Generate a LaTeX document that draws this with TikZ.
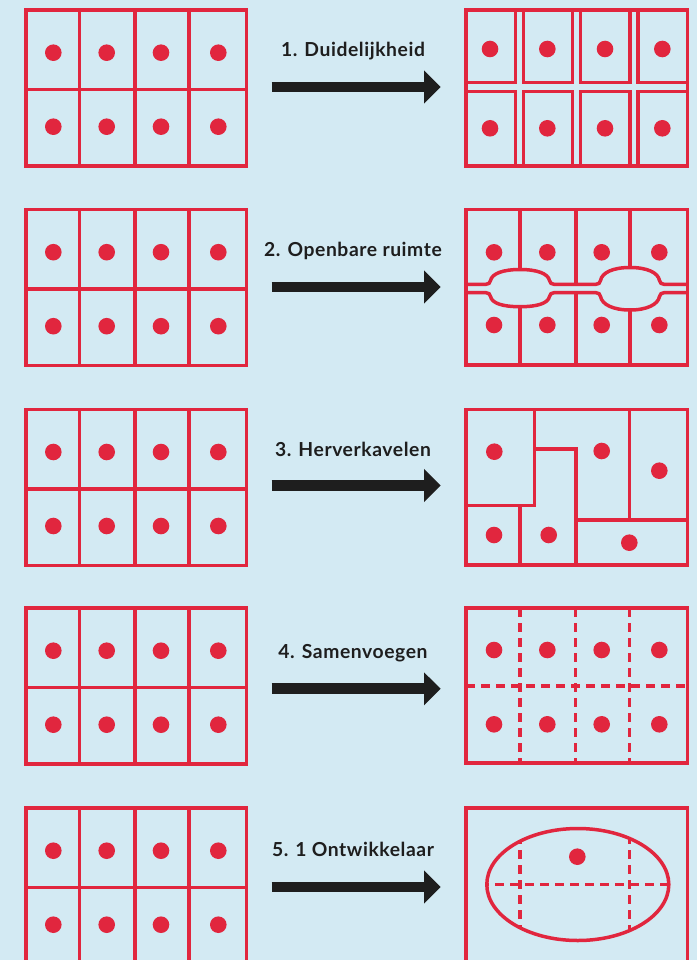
\documentclass[tikz,border=0pt]{standalone}
\usepackage{fontspec}
\setmainfont{Lato}[LetterSpace=3]
\usetikzlibrary{arrows.meta}
\definecolor{bg}{HTML}{D3EAF3}
\definecolor{rd}{HTML}{E1263E}
\definecolor{ink}{HTML}{1E1E1E}
\tikzset{
 plot/.style={draw=rd, line width=3.5pt},
 dashln/.style={draw=rd, line width=3.5pt, dash pattern=on 9pt off 6pt},
 bigarrow/.style={draw=ink, line width=10.7pt, -{Triangle[length=16.7pt,width=32pt]}},
 lab/.style={font=\fontsize{19.3}{21}\selectfont\bfseries, text=ink, anchor=base, inner sep=0pt}
}
\newcommand\leftgrid[1]{%
\begin{scope}[shift={(0,#1)}]
\draw[plot] (26,0) rectangle (246.5,156);
\draw[plot] (79.5,0) -- (79.5,156) (135,0) -- (135,156) (189,0) -- (189,156) (26,79.5) -- (246.5,79.5);
\foreach \xx in {53.3,106.7,161,218.3}{\foreach \yy in {42.7,116.7}{\fill[rd] (\xx,\yy) circle (8.3pt);}}
\end{scope}}
\begin{document}
\begin{tikzpicture}[x=1pt,y=-1pt]
\useasboundingbox (0,0) rectangle (697,960);
\clip (0,0) rectangle (697,960);
\fill[bg] (0,0) rectangle (697,960);
% left grids
\leftgrid{10}
\leftgrid{209.5}
\leftgrid{409.3}
\leftgrid{608}
\leftgrid{808}
% labels
\node[lab] (l1) at (353,56.7) {1. Duidelijkheid};
\node[lab] (l2) at (353,256.7) {2. Openbare ruimte};
\node[lab] (l3) at (353,456) {3. Herverkavelen};
\node[lab] (l4) at (353,658.3) {4. Samenvoegen};
\node[lab] (l5) at (353,856.7) {5. 1 Ontwikkelaar};
% arrows
\coordinate (a1s) at (271.7,87);    \coordinate (a1e) at (440.7,87);
\coordinate (a2s) at (271.7,287);   \coordinate (a2e) at (440.7,287);
\coordinate (a3s) at (271.7,485.5); \coordinate (a3e) at (440.7,485.5);
\coordinate (a4s) at (271.7,688.8); \coordinate (a4e) at (440.7,688.8);
\coordinate (a5s) at (271.7,887);   \coordinate (a5e) at (440.7,887);
\draw[bigarrow] (a1s) -- (a1e);
\draw[bigarrow] (a2s) -- (a2e);
\draw[bigarrow] (a3s) -- (a3e);
\draw[bigarrow] (a4s) -- (a4e);
\draw[bigarrow] (a5s) -- (a5e);
% row 1 right: separated plots
\draw[plot] (466,10) rectangle (687.5,166);
\foreach \xa/\xb in {466/515.5,523.5/572.5,580.5/630,638/687.5}{
  \draw[plot] (\xa,10) rectangle (\xb,82.7);
  \draw[plot] (\xa,91.7) rectangle (\xb,166);}
\foreach \xx in {490,547.3,605,662.3}{\fill[rd] (\xx,49) circle (8.3pt); \fill[rd] (\xx,128.3) circle (8.3pt);}
% row 2 right: public space
\draw[plot] (466,209.5) rectangle (687.5,365);
\draw[plot] (520,209.5) -- (520,269.5) (520,306.7) -- (520,365)
  (576,209.5) -- (576,284.3) (576,292.7) -- (576,365)
  (630,209.5) -- (630,267.5) (630,310) -- (630,365);
\draw[plot] (466,284.3) -- (486,284.3)
  .. controls (488.5,284.3) and (490,283) .. (490.5,280.5)
  .. controls (492,273.5) and (503,269.5) .. (520,269.5)
  .. controls (537,269.5) and (548,273.5) .. (549.5,280.5)
  .. controls (550,283) and (551.5,284.3) .. (554,284.3) -- (596,284.3)
  .. controls (598.5,284.3) and (600,283) .. (600.5,280.5)
  .. controls (602,272.5) and (613,267.5) .. (630,267.5)
  .. controls (647,267.5) and (658,272.5) .. (659.5,280.5)
  .. controls (660,283) and (661.5,284.3) .. (664,284.3) -- (687.5,284.3);
\draw[plot] (466,292.7) -- (486,292.7)
  .. controls (488.5,292.7) and (490,294) .. (490.5,296.5)
  .. controls (492,303.5) and (503,306.7) .. (520,306.7)
  .. controls (537,306.7) and (548,303.5) .. (549.5,296.5)
  .. controls (550,294) and (551.5,292.7) .. (554,292.7) -- (596,292.7)
  .. controls (598.5,292.7) and (600,294) .. (600.5,296.5)
  .. controls (602,304.5) and (613,310) .. (630,310)
  .. controls (647,310) and (658,304.5) .. (659.5,296.5)
  .. controls (660,294) and (661.5,292.7) .. (664,292.7) -- (687.5,292.7);
\foreach \xx in {494,547.3,601.7,659.3}{\fill[rd] (\xx,252.3) circle (8.3pt); \fill[rd] (\xx,325) circle (8.3pt);}
% row 3 right: re-allotment
\draw[plot] (466,409.3) rectangle (687.5,565);
\draw[plot] (534.5,409.3) -- (534.5,505.3) -- (466,505.3);
\draw[plot] (534.5,449) -- (576,449) -- (576,565);
\draw[plot] (520,505.3) -- (520,565);
\draw[plot] (629.5,409.3) -- (629.5,520);
\draw[plot] (576,520) -- (687.5,520);
\fill[rd] (494.3,451.7) circle (8.3pt);
\fill[rd] (601.7,451) circle (8.3pt);
\fill[rd] (659.3,470.7) circle (8.3pt);
\fill[rd] (494,535) circle (8.3pt);
\fill[rd] (548.7,535) circle (8.3pt);
\fill[rd] (629.3,542.7) circle (8.3pt);
% row 4 right: merged
\draw[plot] (466,608) rectangle (687.5,763);
\draw[dashln] (520,608) -- (520,763) (575.7,608) -- (575.7,763) (629.3,608) -- (629.3,763);
\draw[dashln] (466,686) -- (687.5,686);
\foreach \xx in {494,547.3,601.7,659.3}{\fill[rd] (\xx,650) circle (8.3pt); \fill[rd] (\xx,724.3) circle (8.3pt);}
% row 5 right: one developer
\draw[plot] (466,808) rectangle (687.5,970);
\begin{scope}
\clip (577.8,884.5) ellipse [x radius=91, y radius=56];
\draw[dashln] (480,884.3) -- (680,884.3);
\draw[dashln] (520,820) -- (520,950) (629.3,820) -- (629.3,950);
\end{scope}
\draw[plot] (577.8,884.5) ellipse [x radius=91, y radius=56];
\fill[rd] (577.3,856.7) circle (8.3pt);
\end{tikzpicture}
\end{document}
